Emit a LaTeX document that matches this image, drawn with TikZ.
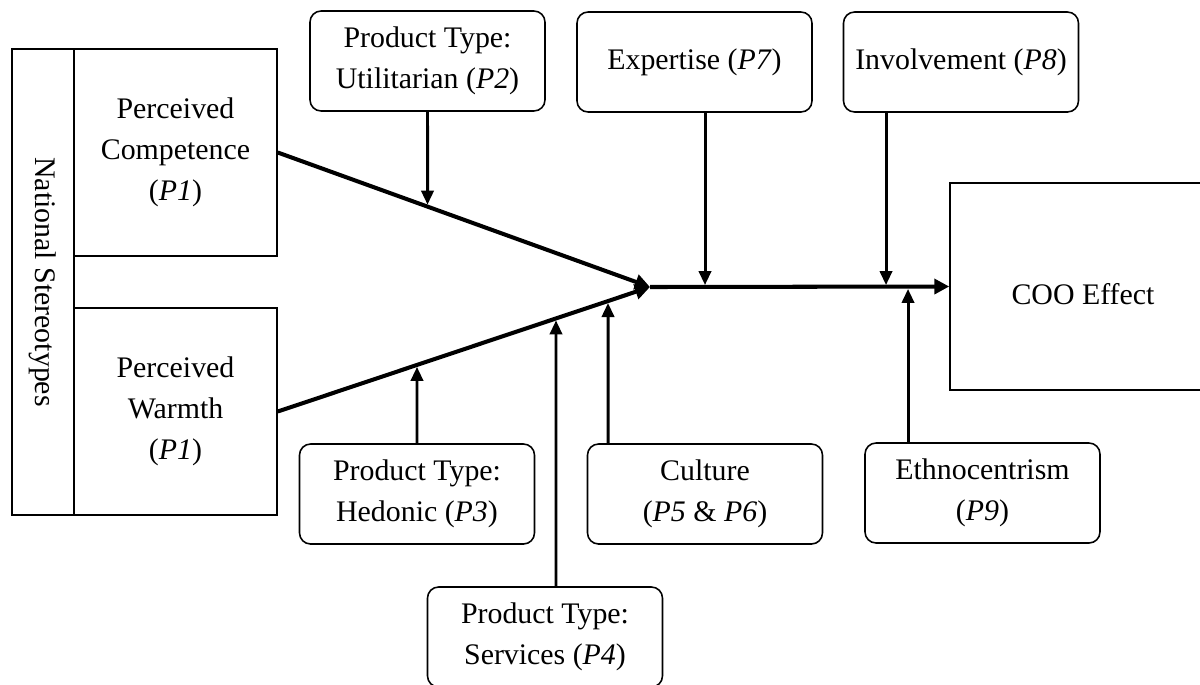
\documentclass[tikz,border=0pt]{standalone}
\usepackage{fontspec}
\setmainfont{Liberation Serif}
\usetikzlibrary{arrows.meta,calc}
\begin{document}
\begin{tikzpicture}[x=0.02cm,y=-0.02cm,
  lbl/.style={font=\fontsize{17}{23.5}\selectfont, align=center},
  sqbox/.style={lbl, draw, line width=0.9pt, inner sep=0pt},
  rbox/.style={sqbox, rounded corners=0.22cm, minimum width=4.7cm, minimum height=2cm},
  mainline/.style={line width=2.3pt, -{Triangle[length=8.5pt,width=8.5pt]}},
  modarrow/.style={line width=1.7pt, -{Triangle[length=8pt,width=7pt]}, shorten >=1.1pt}]
\useasboundingbox (0,0) rectangle (1200,684);

% left block
\node[sqbox, rotate=-90, minimum width=9.32cm, minimum height=1.24cm] (ns) at (43,282) {National Stereotypes};
\node[sqbox, minimum width=4.06cm, minimum height=4.14cm] (comp) at (175.5,152.5) {Perceived\\Competence\\(\textit{P1})};
\node[sqbox, minimum width=4.06cm, minimum height=4.14cm] (warm) at (175.5,411.5) {Perceived\\Warmth\\(\textit{P1})};

% outcome
\node[sqbox, minimum width=5.32cm, minimum height=4.14cm] (coo) at (1083,286.5) {};
\node[lbl] (cootext) at (1083,294) {COO Effect};

% moderators
\node[rbox] (util) at (427.5,61) {Product Type:\\Utilitarian (\textit{P2})};
\node[rbox] (exp) at (694.5,62) {Expertise (\textit{P7})};
\node[rbox] (inv) at (961,62) {Involvement (\textit{P8})};
\node[rbox] (hed) at (417,494) {Product Type:\\Hedonic (\textit{P3})};
\node[rbox] (cul) at (705,494) {Culture\\(\textit{P5} \& \textit{P6})};
\node[rbox] (eth) at (982.5,493) {Ethnocentrism\\(\textit{P9})};
\node[rbox] (srv) at (545,637) {Product Type:\\Services (\textit{P4})};

% main paths
\coordinate (tip) at (650,287);
\draw[mainline] (comp.east) -- (tip);
\draw[mainline] (warm.east) -- (tip);
\draw[mainline] (tip) -- (coo.west);

% moderator arrows
\draw[modarrow] (util.south) -- (intersection of util.south--util.north and comp.east--tip);
\coordinate (ea) at ([xshift=0.21cm]exp.south);
\draw[modarrow] (ea) -- (ea |- tip);
\coordinate (ia) at ([xshift=-1.5cm]inv.south);
\draw[modarrow] (ia) -- (ia |- tip);
\draw[modarrow] (hed.north) -- (intersection of hed.north--hed.south and warm.east--tip);
\coordinate (sa) at ([xshift=0.22cm]srv.north);
\coordinate (sb) at ([xshift=0.22cm]srv.south);
\draw[modarrow] (sa) -- (intersection of sa--sb and warm.east--tip);
\coordinate (ca) at ([xshift=-1.94cm]cul.north);
\coordinate (cb) at ([xshift=-1.94cm]cul.south);
\draw[modarrow] (ca) -- (intersection of ca--cb and warm.east--tip);
\coordinate (ta) at ([xshift=-1.49cm]eth.north);
\draw[modarrow] (ta) -- (ta |- tip);
\end{tikzpicture}
\end{document}
